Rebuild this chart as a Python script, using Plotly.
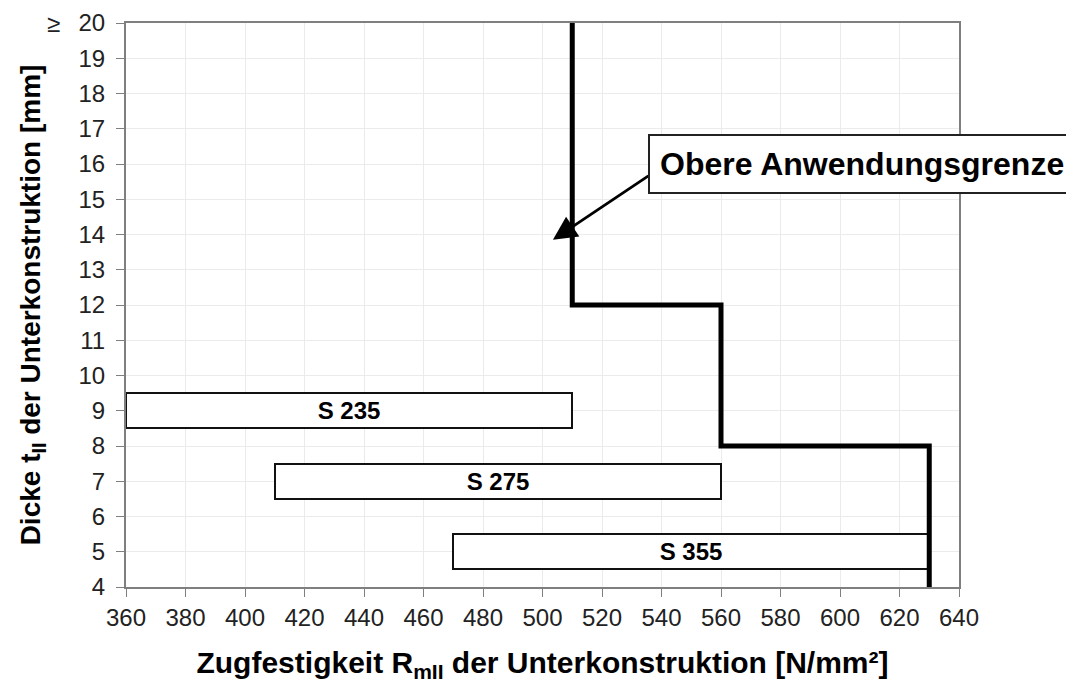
import plotly.graph_objects as go

# Data
steel_grades = ["S 235", "S 275", "S 355"]
strength_min = [360, 410, 470]      # N/mm² (bar start)
strength_max = [510, 560, 630]      # N/mm² (bar end)
grade_thickness = [9, 7, 5]         # mm (bar centre)

limit_strength = [510, 510, 560, 560, 630, 630]
limit_thickness = [20, 12, 12, 8, 8, 4]

x_ticks = list(range(360, 641, 20))
y_ticks = list(range(4, 21))

FONT = "Liberation Sans, Arial, Helvetica, sans-serif"

fig = go.Figure()

fig.add_trace(go.Bar(
    orientation="h",
    y=grade_thickness,
    x=[b - a for a, b in zip(strength_min, strength_max)],
    base=strength_min,
    width=1,
    marker=dict(color="white", line=dict(color="#111", width=2)),
    text=["<b>%s</b>" % g for g in steel_grades],
    textposition="inside",
    insidetextanchor="middle",
    textfont=dict(family=FONT, size=24, color="black"),
    showlegend=False,
    hoverinfo="skip",
))

fig.add_trace(go.Scatter(
    x=limit_strength, y=limit_thickness, mode="lines",
    line=dict(color="black", width=5),
    showlegend=False, hoverinfo="skip",
))

axis_common = dict(
    showgrid=True, gridcolor="#ebebeb", gridwidth=1,
    showline=True, linecolor="#7f7f7f", linewidth=2, mirror=True,
    ticks="outside", ticklen=8, tickcolor="#7f7f7f", tickwidth=1,
    tickfont=dict(family=FONT, size=24, color="#222"),
    zeroline=False, automargin=False,
)

fig.update_xaxes(
    range=[360, 640], tickvals=x_ticks, **axis_common,
    title=dict(text="<b>Zugfestigkeit R<sub>mII</sub> der Unterkonstruktion [N/mm²]</b>",
               font=dict(family=FONT, size=30, color="black"), standoff=22),
)
fig.update_yaxes(
    range=[4, 20], tickvals=y_ticks, **axis_common, ticklabelstandoff=6,
    title=dict(text="<b>Dicke t<sub>II</sub> der Unterkonstruktion [mm]</b>",
               font=dict(family=FONT, size=28, color="black"), standoff=30),
)

# >= sign next to top tick
fig.add_annotation(text="≥", xref="paper", yref="y", x=(53 - 126) / 833, y=20,
                   xanchor="center", yanchor="middle",
                   showarrow=False, font=dict(family=FONT, size=24, color="#222"))

# Arrow
fig.add_annotation(x=503.5, y=13.85, ax=536.1, ay=15.69, xref="x", yref="y",
                   axref="x", ayref="y", text="", showarrow=True,
                   arrowhead=2, arrowsize=1.7, arrowwidth=2.8, arrowcolor="black")

# Label box
fig.add_annotation(text="<b>Obere Anwendungsgrenze</b>", xref="paper", yref="paper",
                   x=(862 - 126) / 833, y=1 - (164 - 23) / 564,
                   xanchor="center", yanchor="middle",
                   showarrow=False, bgcolor="white", bordercolor="#222",
                   borderwidth=2, borderpad=10,
                   font=dict(family=FONT, size=32, color="black"))

# page body adds an 8px offset, so the figure is reduced by that amount
fig.update_layout(
    width=1066, height=676,
    margin=dict(l=118, r=115, t=15, b=97, autoexpand=False),
    plot_bgcolor="white", paper_bgcolor="white",
    bargap=0,
)

fig.write_html("out.html")
